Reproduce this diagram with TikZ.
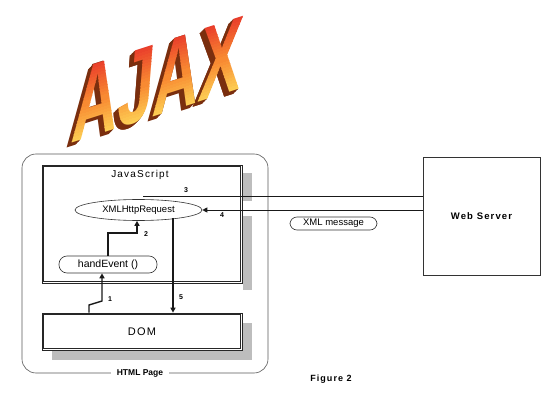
\documentclass[tikz,border=0pt]{standalone}
\usepackage{fontspec}
\setmainfont{Liberation Sans}
\newfontfamily\ajaxfont{Liberation Sans}
\newfontfamily\spacedfont[LetterSpace=12]{Liberation Sans}
\usetikzlibrary{arrows.meta,shapes.geometric}
\definecolor{shadowgray}{HTML}{BDBDBD}
\definecolor{ajaxbrown}{HTML}{7A2E0E}
\definecolor{ajaxred}{HTML}{E8362A}
\definecolor{ajaxorange}{HTML}{F88A32}
\definecolor{ajaxyellow}{HTML}{FFE35E}

\begin{document}
\begin{tikzpicture}[x=1pt,y=-1pt,
  boxd/.style={draw=black!85, line width=0.7pt, fill=white, inner sep=0pt},
  arr/.style={line width=1.4pt, draw=black!90, -{Triangle[length=5pt,width=5pt]}},
  thinline/.style={line width=0.9pt, draw=black!90},
  thinarr/.style={line width=0.9pt, draw=black!90, -{Triangle[length=5pt,width=5pt]}},
  numlbl/.style={font=\bfseries\fontsize{7}{8}\selectfont, inner sep=0pt},
  pill/.style={draw=black!80, line width=0.6pt, rounded corners=7pt, inner sep=0pt, fill=white},
  ajaxtext/.style={transform shape, inner sep=0pt, font=\ajaxfont\bfseries\fontsize{104}{104}\selectfont}
]
\useasboundingbox (0,0) rectangle (560,420);
\fill[white] (0,0) rectangle (560,420);

% AJAX title
\begin{scope}[shift={(158,80)}, yslant=0.32, xslant=0.08]
\foreach \i in {8,7,...,1}
  \node[ajaxtext, text=ajaxbrown] (ajaxs\i) at (-0.6*\i, 0.45*\i) {\scalebox{0.61}[1]{AJAX}};
\foreach \i in {0,...,13} {
  \pgfmathsetmacro\ya{-42+3*\i}
  \pgfmathsetmacro\pc{100*\i/13}
  \begin{scope}
    \clip (-150,\ya) rectangle (150,\ya+3.3);
    \node[ajaxtext, text=ajaxorange!\pc!ajaxred] (ajaxg\i) at (0,0) {\scalebox{0.61}[1]{AJAX}};
  \end{scope}
}
\foreach \i in {0,...,14} {
  \pgfmathsetmacro\ya{0+3*\i}
  \pgfmathsetmacro\pc{100*\i/14}
  \begin{scope}
    \clip (-150,\ya) rectangle (150,\ya+3.3);
    \node[ajaxtext, text=ajaxyellow!\pc!ajaxorange] (ajaxh\i) at (0,0) {\scalebox{0.61}[1]{AJAX}};
  \end{scope}
}
\end{scope}

% HTML page
\node[draw=black!65, line width=0.6pt, rounded corners=14pt, minimum width=246pt, minimum height=219pt, inner sep=0pt] (html) at (145,263.5) {};
\node[fill=white, inner xsep=6pt, inner ysep=1pt, font=\bfseries\fontsize{8.5}{9}\selectfont] (htmllbl) at (140,373) {HTML Page};

% JavaScript box with shadow
\fill[shadowgray] (243,173) rectangle (252,201);
\fill[shadowgray] (243,216) rectangle (252,290);
\node[boxd, minimum width=200pt, minimum height=118pt] (js) at (142,224) {};
\draw[draw=black!85, line width=0.7pt] ([shift={(2,2)}]js.north west) rectangle ([shift={(-2,-2)}]js.south east);
\node[font=\spacedfont\fontsize{10}{12}\selectfont, inner sep=0pt] (jslbl) at (140,175) {JavaScript};

% DOM box with shadow
\fill[shadowgray] (52,323) rectangle (252,360);
\node[boxd, minimum width=200pt, minimum height=37pt, font=\spacedfont\fontsize{11}{12}\selectfont] (dom) at (142,331.5) {DOM};
\draw[draw=black!85, line width=0.7pt] ([shift={(2,2)}]dom.north west) rectangle ([shift={(-2,-2)}]dom.south east);

% XMLHttpRequest ellipse
\node[ellipse, draw=black!80, line width=0.6pt, fill=white, minimum width=127pt, minimum height=21pt, inner sep=0pt, font=\fontsize{9.5}{10}\selectfont] (xhr) at (138.5,210) {XMLHttpRequest};

% handEvent
\node[draw=black!80, line width=0.6pt, rounded corners=8pt, minimum width=98pt, minimum height=17pt, inner sep=0pt, font=\fontsize{10.5}{11}\selectfont] (hand) at (108,264.5) {handEvent ()};

% Web server
\node[draw=black!80, line width=0.6pt, minimum width=117pt, minimum height=118pt, inner sep=0pt, font=\spacedfont\bfseries\fontsize{9.5}{10}\selectfont] (web) at (481.5,216) {Web Server};

% XML message
\node[pill, minimum width=87pt, minimum height=13pt, font=\fontsize{9.5}{10}\selectfont] (xmlmsg) at (333.5,223.5) {XML message};

% Figure caption
\node[font=\spacedfont\bfseries\fontsize{9}{10}\selectfont, inner sep=0pt] (fig) at (331,379) {Figure 2};

% Connector coordinates
\coordinate (c1a) at (89,305);
\coordinate (c1b) at (102,301);
\coordinate (c2a) at (108,233);
\coordinate (c2b) at (137,233);
\coordinate (c3) at (143,196);
\coordinate (c5) at (173,0);
\coordinate (c4) at (0,210);

% 1: DOM -> handEvent
\draw[arr] (dom.north -| c1a) -- (c1a) -- (c1b) -- (hand.south -| c1b);
\node[numlbl] (l1) at (110,299) {1};
% 2: handEvent -> XMLHttpRequest
\draw[arr] (hand.north -| c2a) -- (c2a) -- (c2b) -- (xhr.south -| c2b);
\node[numlbl] (l2) at (146,234) {2};
% 3: XMLHttpRequest -> Web Server
\draw[thinline] (c3) -- (web.west |- c3);
\node[numlbl] (l3) at (186,190) {3};
% 4: Web Server -> XMLHttpRequest
\draw[thinarr] (web.west |- c4) -- (xhr.east |- c4);
\node[numlbl] (l4) at (222,215) {4};
% 5: XMLHttpRequest -> DOM
\draw[arr] (xhr.south -| c5) ++(0,-3) -- (dom.north -| c5);
\node[numlbl] (l5) at (181,297) {5};
\end{tikzpicture}
\end{document}
